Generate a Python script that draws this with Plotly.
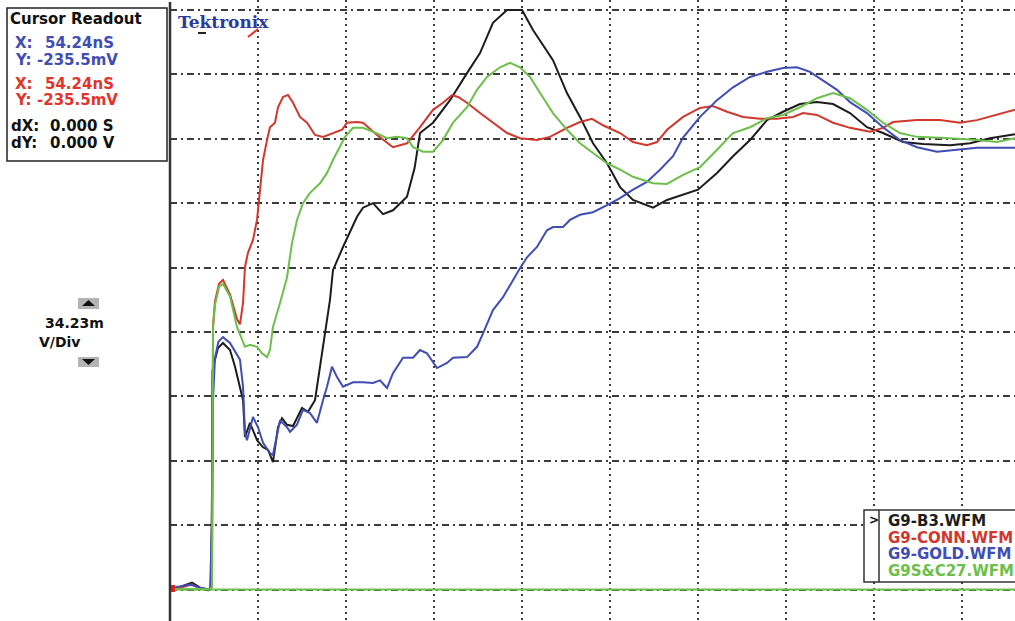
import plotly.graph_objects as go

# ---- waveform data (time in divisions, amplitude in divisions, 34.23 mV/div) ----
b3_t = [0, 0.114, 0.25, 0.341, 0.432, 0.466, 0.477, 0.483, 0.511, 0.545, 0.602, 0.682,
        0.739, 0.830, 0.852, 0.909, 0.989, 1.057, 1.114, 1.170, 1.227, 1.273, 1.330, 1.398,
        1.5, 1.568, 1.648, 1.705, 1.761, 1.818, 1.852, 1.966, 2.125, 2.193, 2.307, 2.420,
        2.534, 2.693, 2.780, 2.841, 2.989, 3.182, 3.375, 3.523, 3.670, 3.830, 4.0, 4.125,
        4.352, 4.511, 4.659, 4.807, 4.966, 5.114, 5.261, 5.489, 5.648, 5.830, 6.0, 6.216,
        6.398, 6.591, 6.784, 6.966, 7.159, 7.352, 7.534, 7.727, 7.920, 8.102, 8.330, 8.557,
        8.864, 9.091, 9.318, 9.602]
b3_v = [0.01, 0.04, 0.11, 0.03, -0.01, 0.04, 1.5, 3.4, 3.57, 3.75, 3.83, 3.72,
        3.46, 2.94, 2.37, 2.59, 2.32, 2.21, 2.17, 1.98, 2.52, 2.66, 2.56, 2.54,
        2.82, 2.76, 2.94, 3.46, 3.98, 4.50, 4.96, 5.32, 5.79, 5.93, 6.00, 5.83,
        5.89, 6.10, 6.55, 7.09, 7.25, 7.60, 8.02, 8.33, 8.80, 9.0, 9.0, 8.69,
        8.22, 7.71, 7.34, 6.93, 6.62, 6.25, 6.05, 5.93, 6.05, 6.13, 6.21, 6.47,
        6.73, 6.98, 7.29, 7.42, 7.54, 7.57, 7.54, 7.40, 7.18, 7.09, 6.95, 6.92,
        6.90, 6.93, 7.01, 7.07]

conn_t = [0, 0.114, 0.25, 0.341, 0.455, 0.477, 0.483, 0.489, 0.511, 0.557, 0.602, 0.682,
          0.761, 0.795, 0.830, 0.852, 0.886, 0.943, 0.989, 1.023, 1.057, 1.102, 1.136,
          1.193, 1.227, 1.284, 1.341, 1.398, 1.477, 1.557, 1.648, 1.739, 1.852, 1.955,
          2.011, 2.125, 2.193, 2.352, 2.534, 2.693, 2.841, 2.989, 3.102, 3.205, 3.273,
          3.375, 3.523, 3.670, 3.830, 3.977, 4.170, 4.318, 4.511, 4.659, 4.795, 4.920,
          5.114, 5.261, 5.420, 5.534, 5.648, 5.830, 6.023, 6.170, 6.330, 6.511, 6.705,
          6.898, 7.080, 7.193, 7.352, 7.534, 7.727, 7.955, 8.102, 8.216, 8.489, 8.75,
          8.977, 9.170, 9.398, 9.602]
conn_v = [0.01, 0.03, 0.08, 0.02, 0.0, 0.05, 2.0, 4.1, 4.47, 4.75, 4.81, 4.58,
          4.20, 4.12, 4.45, 5.01, 5.23, 5.43, 5.74, 6.16, 6.67, 6.98, 7.18,
          7.25, 7.49, 7.65, 7.68, 7.56, 7.34, 7.25, 7.06, 7.03, 7.09, 7.14,
          7.25, 7.26, 7.25, 7.06, 6.87, 6.93, 7.18, 7.45, 7.56, 7.68, 7.65,
          7.56, 7.40, 7.25, 7.09, 7.01, 6.98, 7.03, 7.17, 7.26, 7.31, 7.21,
          7.09, 6.95, 6.90, 6.95, 7.14, 7.34, 7.48, 7.51, 7.42, 7.34, 7.31,
          7.31, 7.34, 7.40, 7.37, 7.25, 7.17, 7.11, 7.17, 7.26, 7.29, 7.29,
          7.25, 7.29, 7.37, 7.45]

gold_t = [0, 0.114, 0.227, 0.341, 0.455, 0.477, 0.489, 0.511, 0.55, 0.602, 0.682, 0.795,
          0.830, 0.852, 0.875, 0.943, 1.0, 1.057, 1.136, 1.170, 1.25, 1.330, 1.364, 1.443,
          1.511, 1.591, 1.670, 1.739, 1.784, 1.841, 1.898, 1.966, 2.080, 2.193, 2.307,
          2.386, 2.466, 2.534, 2.648, 2.761, 2.841, 2.920, 3.034, 3.148, 3.216, 3.375,
          3.489, 3.557, 3.670, 3.784, 3.898, 3.977, 4.057, 4.170, 4.284, 4.352, 4.466,
          4.545, 4.659, 4.807, 4.966, 5.114, 5.261, 5.420, 5.568, 5.716, 5.830, 6.023,
          6.216, 6.398, 6.591, 6.784, 6.966, 7.125, 7.273, 7.420, 7.580, 7.727, 7.920,
          8.102, 8.295, 8.489, 8.716, 8.943, 9.170, 9.602]
gold_v = [0.02, 0.05, 0.08, 0.03, 0.0, 1.0, 2.94, 3.60, 3.85, 3.92, 3.83, 3.57,
          3.15, 2.43, 2.32, 2.68, 2.52, 2.28, 2.12, 2.09, 2.63, 2.52, 2.45, 2.56,
          2.79, 2.74, 2.59, 2.94, 3.15, 3.46, 3.30, 3.15, 3.22, 3.22, 3.21,
          3.25, 3.13, 3.36, 3.60, 3.60, 3.72, 3.67, 3.44, 3.52, 3.60, 3.61,
          3.77, 3.98, 4.34, 4.54, 4.81, 4.99, 5.16, 5.32, 5.58, 5.63, 5.63,
          5.74, 5.82, 5.86, 5.97, 6.08, 6.21, 6.33, 6.52, 6.73, 7.02, 7.34,
          7.60, 7.80, 7.96, 8.04, 8.10, 8.11, 8.04, 7.91, 7.76, 7.57, 7.40,
          7.18, 6.98, 6.87, 6.80, 6.83, 6.86, 6.86]

sc27_t = [0, 0.227, 0.455, 0.477, 0.483, 0.489, 0.511, 0.557, 0.602, 0.682, 0.761, 0.818,
          0.852, 0.909, 0.989, 1.045, 1.102, 1.136, 1.170, 1.25, 1.330, 1.386, 1.443,
          1.511, 1.591, 1.705, 1.784, 1.852, 1.932, 1.989, 2.080, 2.193, 2.307, 2.466,
          2.580, 2.693, 2.761, 2.875, 2.989, 3.102, 3.216, 3.375, 3.489, 3.602, 3.75,
          3.864, 3.977, 4.091, 4.205, 4.352, 4.511, 4.659, 4.807, 4.966, 5.114, 5.261,
          5.489, 5.648, 5.830, 6.023, 6.216, 6.398, 6.591, 6.784, 6.966, 7.159, 7.352,
          7.534, 7.727, 7.920, 8.102, 8.295, 8.489, 8.864, 9.170, 9.398, 9.602]
sc27_v = [0.0, 0.01, 0.0, 0.05, 2.0, 4.05, 4.42, 4.70, 4.75, 4.55, 4.08, 3.88,
          3.77, 3.80, 3.77, 3.67, 3.61, 3.72, 4.08, 4.45, 4.85, 5.38, 5.74,
          6.00, 6.16, 6.31, 6.47, 6.67, 6.87, 7.03, 7.17, 7.17, 7.11, 7.01,
          7.03, 7.01, 6.87, 6.80, 6.80, 6.98, 7.25, 7.49, 7.76, 7.96, 8.11,
          8.18, 8.11, 7.96, 7.71, 7.40, 7.14, 6.93, 6.78, 6.62, 6.52, 6.41,
          6.31, 6.30, 6.44, 6.56, 6.83, 7.09, 7.18, 7.32, 7.37, 7.49, 7.63,
          7.71, 7.63, 7.45, 7.25, 7.09, 7.03, 7.01, 6.98, 6.95, 7.01]

names = ["G9-B3.WFM", "G9-CONN.WFM", "G9-GOLD.WFM", "G9S&C27.WFM"]
colors = ["#1c1c1c", "#d2372b", "#3f4db4", "#6cc04a"]

W, H = 1015, 621
GRID = "#3c3c3c"
BLUE_TXT = "#3f4db4"
RED_TXT = "#e0352b"
BLACK_TXT = "#111111"


def fx(p):
    return p / W


def fy(p):
    return 1 - p / H


def label(text, x, y, color, size=15, family="DejaVu Sans"):
    return dict(text=text, x=fx(x), y=fy(y), xref="paper", yref="paper",
                xanchor="left", yanchor="middle", showarrow=False,
                font=dict(family=family, size=size, color=color))


fig = go.Figure()
for t, v, nm, c in zip([b3_t, conn_t, gold_t, sc27_t], [b3_v, conn_v, gold_v, sc27_v], names, colors):
    fig.add_trace(go.Scatter(x=t, y=v, mode="lines", name=nm, line=dict(color=c, width=2),
                             showlegend=False, hoverinfo="skip"))

shapes = []
annotations = []

# channel ground reference line and marker
shapes.append(dict(type="line", xref="x domain", yref="y", x0=0, x1=1, y0=0, y1=0,
                   line=dict(color="#6cc04a", width=2), layer="above"))
shapes.append(dict(type="rect", xref="paper", yref="paper", x0=fx(170), x1=fx(175),
                   y0=fy(592), y1=fy(585), fillcolor="#e02020", line=dict(width=0)))
# left edge of the graticule
shapes.append(dict(type="line", xref="paper", yref="paper", x0=fx(170), x1=fx(170), y0=0, y1=fy(2),
                   line=dict(color="#333333", width=2.5)))

# cursor readout panel
shapes.append(dict(type="rect", xref="paper", yref="paper", x0=fx(7), x1=fx(167), y0=fy(161), y1=fy(8),
                   line=dict(color="#222222", width=1.5), fillcolor="white"))
annotations.append(label("<b>Cursor Readout</b>", 8, 19, BLACK_TXT))
readout = [
    ("X:", "54.24nS", 43, BLUE_TXT, 13, 43),
    ("Y:", "-235.5mV", 60, BLUE_TXT, 13, 35),
    ("X:", "54.24nS", 84, RED_TXT, 13, 43),
    ("Y:", "-235.5mV", 100, RED_TXT, 13, 35),
    ("dX:", "0.000 S", 126, BLACK_TXT, 9, 48),
    ("dY:", "0.000 V", 143, BLACK_TXT, 9, 48),
]
for key, val, yy, c, xk, xv in readout:
    annotations.append(label(f"<b>{key}</b>", xk, yy, c))
    annotations.append(label(f"<b>{val}</b>", xv, yy, c))

# volts/div control
for y0, y1, up in [(298, 309, True), (357, 367, False)]:
    shapes.append(dict(type="rect", xref="paper", yref="paper", x0=fx(78), x1=fx(99),
                       y0=fy(y1), y1=fy(y0), fillcolor="#b4b4b4", line=dict(width=0)))
    if up:
        path = f"M {fx(82)} {fy(306)} L {fx(95)} {fy(306)} L {fx(88.5)} {fy(300)} Z"
    else:
        path = f"M {fx(82)} {fy(359)} L {fx(95)} {fy(359)} L {fx(88.5)} {fy(365)} Z"
    shapes.append(dict(type="path", xref="paper", yref="paper", path=path,
                       fillcolor="#111111", line=dict(width=0)))
annotations.append(label("<b>34.23m</b>", 43, 323, BLACK_TXT, size=14))
annotations.append(label("<b>V/Div</b>", 37, 342, BLACK_TXT, size=14))

# Tektronix badge
annotations.append(label("<b>Tektronix</b>", 176, 22, "#2b3a9c", size=17, family="DejaVu Serif"))
shapes.append(dict(type="line", xref="paper", yref="paper", x0=fx(198), x1=fx(206), y0=fy(33), y1=fy(33),
                   line=dict(color="#222222", width=2)))
shapes.append(dict(type="line", xref="paper", yref="paper", x0=fx(248), x1=fx(258), y0=fy(37), y1=fy(29),
                   line=dict(color="#e0352b", width=2)))

# waveform list box
shapes.append(dict(type="rect", xref="paper", yref="paper", x0=fx(864), x1=fx(1030), y0=fy(582), y1=fy(510),
                   line=dict(color="#333333", width=1.5), fillcolor="white", layer="above"))
shapes.append(dict(type="line", xref="paper", yref="paper", x0=fx(879), x1=fx(879), y0=fy(582), y1=fy(510),
                   line=dict(color="#333333", width=1.5), layer="above"))
annotations.append(label("<b>&gt;</b>", 867, 520, BLACK_TXT, size=12))
for i, (nm, c) in enumerate(zip(names, colors)):
    annotations.append(label(f"<b>{nm}</b>", 886, 521 + 16.7 * i, c, size=15))

fig.update_layout(
    width=W, height=H,
    margin=dict(l=0, r=0, t=0, b=0),
    paper_bgcolor="white", plot_bgcolor="white",
    showlegend=False,
    shapes=shapes, annotations=annotations,
    xaxis=dict(domain=[170 / W, 1], range=[0, 845 / 88], dtick=1, tick0=0,
               showgrid=True, gridcolor=GRID, gridwidth=2, griddash="2px,4px",
               zeroline=False, showticklabels=False, ticks="", showline=False, fixedrange=True),
    yaxis=dict(domain=[0, 1], range=[-31.4 / 64.4, 589.6 / 64.4], dtick=1, tick0=0,
               showgrid=True, gridcolor=GRID, gridwidth=2, griddash="7px,4px,2px,4px",
               zeroline=False, showticklabels=False, ticks="", showline=False, fixedrange=True),
)

fig.write_html("out.html")
